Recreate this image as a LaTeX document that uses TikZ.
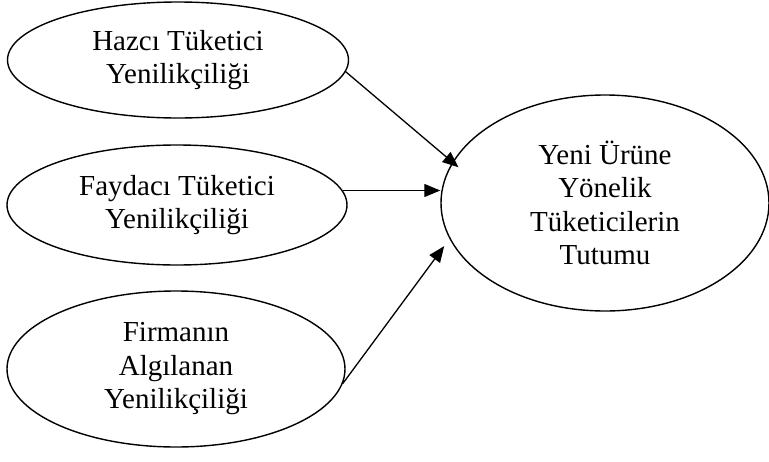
\documentclass[tikz,border=0pt]{standalone}
\usepackage{fontspec}
\setmainfont{Liberation Serif}
\usetikzlibrary{shapes.geometric,arrows.meta}
\begin{document}
\begin{tikzpicture}[x=1pt,y=-1pt,
  oval/.style={draw, ellipse, line width=1.4pt, inner sep=0pt, align=center,
    font=\fontsize{29}{33.5}\selectfont},
  link/.style={line width=1.3pt, -{Triangle[length=16pt,width=13pt]}}]
\useasboundingbox (0,0) rectangle (769,461);
\node[oval, minimum width=341pt, minimum height=116pt] (e1) at (178,60) {Hazcı Tüketici\\Yenilikçiliği};
\node[oval, minimum width=340pt, minimum height=120pt] (e2) at (177,205) {Faydacı Tüketici\\Yenilikçiliği};
\node[oval, minimum width=338pt, minimum height=156pt] (e3) at (176,369) {Firmanın\\Algılanan\\Yenilikçiliği};
\node[oval, minimum width=328pt, minimum height=216pt] (e4) at (605,203) {Yeni Ürüne\\Yönelik\\Tüketicilerin\\Tutumu};
\draw[link, shorten >=-8pt] (e1.-4) -- (e4.165);
\draw[link] (e2.5) -- (e2.5 -| e4.west);
\draw[link, shorten >=9pt] (e3.-5) -- (e4.193);
\end{tikzpicture}
\end{document}
